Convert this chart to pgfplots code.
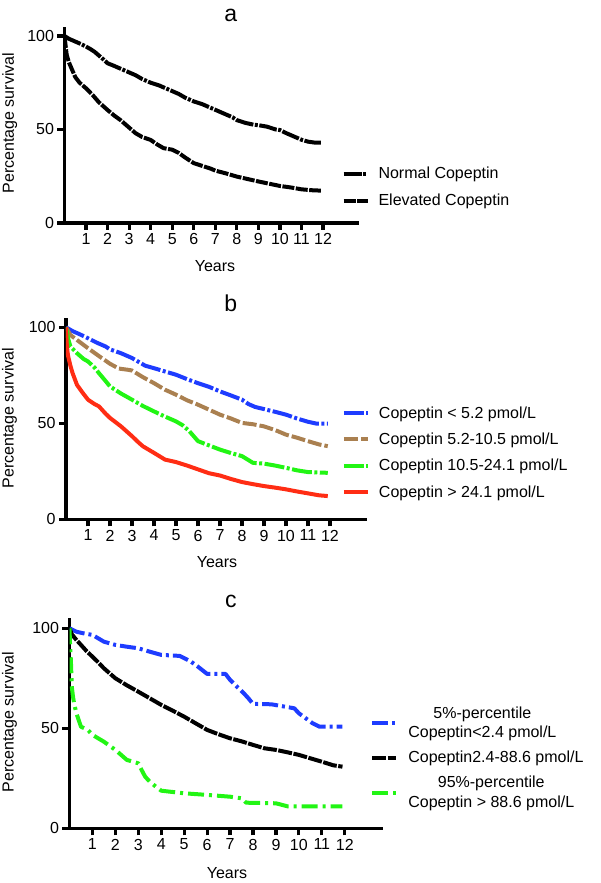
\documentclass[border=0pt]{standalone}
\usepackage{fontspec}
\setmainfont{Liberation Sans}
\usepackage{pgfplots}
\pgfplotsset{compat=1.18}
\definecolor{kmblue}{RGB}{30,60,255}
\definecolor{kmbrown}{RGB}{170,128,80}
\definecolor{kmgreen}{RGB}{34,245,20}
\definecolor{kmred}{RGB}{255,45,20}

\pgfplotsset{
  km/.style={
    scale only axis, anchor=south west,
    xmin=0, xmax=13.67, ymin=0, ymax=105,
    axis x line=bottom, axis y line=left,
    axis line style={line width=3.5pt,-},
    xtick={1,...,12}, ytick={0,50,100},
    tick align=outside, major tick length=7pt,
    tick style={line width=3.2pt, black},
    /pgf/number format/assume math mode=true,
    tick label style={font=\fontsize{16}{19}\selectfont},
    xlabel={Years}, ylabel={Percentage survival},
    legend style={draw=none, fill=none, inner sep=0pt,
      font=\fontsize{16}{19.5}\selectfont,
      nodes={inner sep=0pt}, cells={anchor=west}},
    legend image code/.code={\draw[##1] (0pt,0pt) -- (24pt,0pt);},
    every axis plot/.append style={line width=4pt, line join=round},
  },
  kmlabels/.style n args={6}{
    every axis x label/.style={at={(axis description cs:#1,#2)}, anchor=center,
      font=\fontsize{16}{19}\selectfont},
    every axis y label/.style={at={(axis description cs:#3,#4)}, anchor=center, rotate=90,
      font=\fontsize{16}{19}\selectfont},
    every axis title/.style={at={(axis description cs:#5,#6)}, anchor=center,
      font=\fontsize{23}{26}\selectfont},
  },
}

\begin{document}
\begin{tikzpicture}[x=1pt,y=1pt]
\useasboundingbox (0,0) rectangle (600,883);

% panel a
\begin{axis}[km, at={(64.5pt,660pt)}, width=294.5pt, height=196.4pt,
  kmlabels={0.511}{-0.219}{-0.186}{0.509}{0.565}{1.059},
  title={a},
  legend style={at={(axis description cs:0.94,0.183)}, anchor=west,
    row sep=14pt, column sep=9pt}]
\addplot[black, dash pattern=on 18pt off 1.5pt on 3pt off 1.5pt] coordinates {
(0,100)(0.2,98.5)(0.4,97.5)(0.6,96.5)(0.8,95.5)(1,94.3)(1.2,93)(1.4,91.5)(1.6,89.5)
(1.8,87.5)(2,85.4)(2.3,84)(2.6,82.5)(3,80.5)(3.3,79)(3.6,77)(4,75)(4.4,73.5)(4.8,71.5)
(5,70.5)(5.3,69)(5.6,67)(6,65)(6.4,63.5)(6.8,61.5)(7,60.5)(7.4,58.5)(7.8,56.5)(8,55)
(8.4,53.5)(8.8,52.5)(9,52.3)(9.4,51.5)(9.8,50)(10,49.7)(10.3,48)(10.6,46.5)(11,44.5)
(11.3,43.5)(11.6,43)(11.9,43)};
\addlegendentry{Normal Copeptin}
\addplot[black, dash pattern=on 12pt off 1.5pt] coordinates {
(0,100)(0.05,95)(0.1,90)(0.2,86)(0.35,82)(0.5,78)(0.7,75)(1,72)(1.3,68.5)(1.6,64.5)
(2,60.4)(2.3,57.5)(2.6,55)(3,51)(3.3,48)(3.6,46)(4,44.4)(4.3,42)(4.6,40)(5,39.2)
(5.3,37.5)(5.6,35)(6,32)(6.4,30.5)(6.8,29)(7,28)(7.5,26.5)(8,24.8)(8.5,23.5)(9,22.2)
(9.5,21)(10,19.8)(10.5,19)(11,18)(11.5,17.5)(11.9,17.3)};
\addlegendentry{Elevated Copeptin}
\end{axis}

% panel b
\begin{axis}[km, at={(66pt,363.7pt)}, width=300.7pt, height=201.6pt,
  kmlabels={0.502}{-0.21}{-0.1876}{0.502}{0.548}{1.071},
  title={b},
  legend style={at={(axis description cs:0.917,0.331)}, anchor=west,
    row sep=13.3pt, column sep=9pt}]
\addplot[kmblue, dash pattern=on 20pt off 2.5pt on 3pt off 2.5pt] coordinates {
(0,100)(0.3,98)(0.6,96.5)(1,94.3)(1.4,92)(1.8,90)(2,88.5)(2.5,86.5)(3,84)(3.3,82)
(3.6,80)(4,78.7)(4.5,77)(5,75.3)(5.5,73)(6,70.9)(6.5,69)(7,66.6)(7.5,64.5)(8,62.3)
(8.3,60)(8.6,58.5)(9,57.4)(9.5,56)(10,54.5)(10.5,52.5)(11,50.8)(11.4,49.8)(11.9,49.8)};
\addlegendentry{Copeptin < 5.2 pmol/L}
\addplot[kmbrown, dash pattern=on 14pt off 3pt] coordinates {
(0,100)(0.2,96)(0.5,93.4)(1,89.1)(1.5,85)(2,81)(2.4,78.5)(2.8,77.9)(3,77.5)(3.5,74)
(4,70.9)(4.5,67.5)(5,64.9)(5.5,62)(6,59.7)(6.5,57.1)(7,54.5)(7.5,52.5)(8,50.2)(8.5,49.5)
(9,48.4)(9.5,46.5)(10,44.1)(10.5,42.5)(11,40.7)(11.5,39)(11.9,38.1)};
\addlegendentry{Copeptin 5.2-10.5 pmol/L}
\addplot[kmgreen, dash pattern=on 20pt off 2.5pt on 3pt off 2.5pt] coordinates {
(0,100)(0.1,94)(0.2,90)(0.5,86.5)(0.8,83.5)(1,82.2)(1.3,79)(1.5,76.1)(1.8,72)(2,69.2)
(2.5,65.5)(3,62.3)(3.5,59)(4,56.2)(4.5,53.5)(5,51)(5.3,49)(5.6,46)(6,40.7)(6.5,38.5)
(7,36.3)(7.5,34.5)(8,32.9)(8.5,29.4)(9,29)(9.5,28)(10,26.8)(10.5,25.5)(11,24.6)(11.9,24.2)};
\addlegendentry{Copeptin 10.5-24.1 pmol/L}
\addplot[kmred] coordinates {
(0,100)(0.03,92)(0.07,87)(0.1,84.8)(0.2,80)(0.3,76.1)(0.5,70)(0.75,66)(1,62.3)(1.3,60)
(1.5,58.8)(1.8,55)(2,52.8)(2.5,48.4)(3,43.3)(3.3,40)(3.5,38)(4,34.6)(4.5,31.1)(5,29.8)
(5.5,28)(6,26)(6.5,24)(7,22.8)(7.5,21)(8,19.4)(8.5,18.3)(9,17.3)(9.5,16.5)(10,15.6)
(10.5,14.5)(11,13.5)(11.5,12.5)(11.9,12.1)};
\addlegendentry{Copeptin > 24.1 pmol/L}
\end{axis}

% panel c
\begin{axis}[km, at={(69.5pt,54.7pt)}, width=313.8pt, height=210pt, xmax=13.68,
  kmlabels={0.502}{-0.211}{-0.191}{0.506}{0.514}{1.079},
  title={c},
  legend style={at={(axis description cs:0.958,0.336)}, anchor=west,
    row sep=12pt, column sep=10pt, cells={anchor=west, align=center}}]
\addplot[kmblue, dash pattern=on 16pt off 4pt on 3pt off 4pt] coordinates {
(0,100)(0.3,98.3)(0.6,97.5)(1,96.7)(1.5,93.3)(2,91.7)(2.5,90.8)(3,90)(3.5,88.3)(4,86.7)
(4.8,86.2)(5.1,84.5)(5.3,83.3)(5.6,80.8)(5.8,79)(6,77.2)(6.8,77.2)(7,74.2)(7.3,70.8)
(7.6,67.5)(7.8,65)(8,62.2)(8.8,62)(9.3,61)(9.8,60)(10,57.5)(10.3,55)(10.6,52.5)
(10.9,50.8)(11.9,50.8)};
\addlegendentry{5\%-percentile\\Copeptin<2.4 pmol/L}
\addplot[black, dash pattern=on 14pt off 1.5pt] coordinates {
(0,100)(0.1,97)(0.3,94.2)(0.5,91.7)(0.75,88.5)(1,85.8)(1.25,83)(1.5,80)(1.75,77.5)(2,75)
(2.5,71.5)(3,68.3)(3.5,65)(4,61.7)(4.5,58.8)(5,55.8)(5.5,52.5)(6,49.2)(6.5,47)(7,45)
(7.5,43.5)(8,41.7)(8.5,40)(9,39.2)(9.5,38)(10,36.7)(10.5,35)(11,33.3)(11.5,31.5)(11.9,30.8)};
\addlegendentry{Copeptin2.4-88.6 pmol/L}
\addplot[kmgreen, dash pattern=on 16pt off 5pt on 3pt off 5pt] coordinates {
(0,100)(0.03,90)(0.06,84)(0.1,70.8)(0.15,66)(0.2,62.5)(0.3,57.5)(0.5,50.8)(0.8,49.2)
(1,46.7)(1.5,43.3)(2,39.2)(2.5,34.2)(3,32.5)(3.15,29)(3.3,25.8)(3.5,23.3)(3.8,20.5)
(4,18.8)(5,17.5)(6,16.7)(7,15.8)(7.5,15)(7.7,12.8)(9,12.5)(9.5,11)(11.9,11)};
\addlegendentry{95\%-percentile\\Copeptin > 88.6 pmol/L}
\end{axis}
\end{tikzpicture}
\end{document}
